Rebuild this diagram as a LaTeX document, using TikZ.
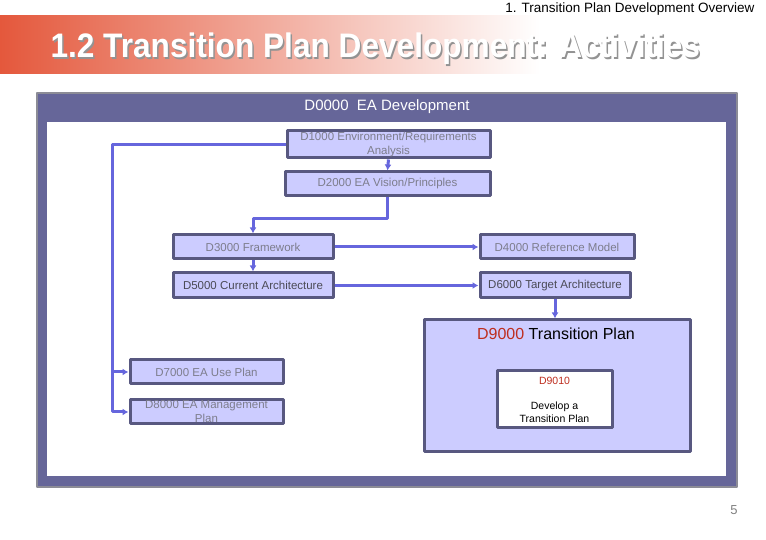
\documentclass[tikz,border=0pt]{standalone}
\usepackage{fontspec}
\setmainfont{Liberation Sans}
\usetikzlibrary{arrows.meta}
\definecolor{bandred}{RGB}{228,88,60}
\definecolor{framecol}{RGB}{102,102,153}
\definecolor{framegray}{RGB}{140,140,150}
\definecolor{boxfill}{RGB}{204,204,255}
\definecolor{boxline}{RGB}{88,88,128}
\definecolor{flowline}{RGB}{102,102,221}
\definecolor{lighttext}{RGB}{125,125,140}
\definecolor{darktext}{RGB}{75,75,85}
\definecolor{redtext}{RGB}{190,45,30}
\begin{document}
\begin{tikzpicture}[>={Latex[length=6bp,width=7bp]},line join=bevel,
  box/.style={draw=boxline,fill=boxfill,line width=3bp,inner sep=0pt,align=center,
    font=\fontsize{11.5bp}{14bp}\selectfont,text=lighttext},
  flow/.style={->,draw=flowline,line width=3bp}]
  \useasboundingbox (0bp,0bp) rectangle (766bp,540bp);
%%
  % Header
  \shade [left color=bandred,right color=white] (0bp,466bp) rectangle (540bp,524bp);
  \node [anchor=east,font=\fontsize{13.5bp}{15bp}\selectfont] (head) at (758bp,531bp) {1. Transition Plan Development Overview};
  \node [anchor=west,text=gray!85,font=\bfseries\fontsize{34bp}{38bp}\selectfont] (titleshadow) at (48.5bp,489.5bp) {\scalebox{0.93}[1]{1.2 Transition Plan Development: Activities}};
  \node [anchor=west,text=white,font=\bfseries\fontsize{34bp}{38bp}\selectfont] (title) at (47bp,491bp) {\scalebox{0.93}[1]{1.2 Transition Plan Development: Activities}};
  % Frame: D0000
  \draw [draw=framegray,fill=framecol,line width=1.5bp] (37bp,53bp) rectangle (737bp,447bp);
  \fill [white] (47bp,64bp) rectangle (726bp,418bp);
  \node [text=white,font=\fontsize{15bp}{17bp}\selectfont] (D0000) at (387bp,433bp) {D0000~~EA Development};
  % Node: D1000
  \node [box,minimum width=203bp,minimum height=27bp] (D1000) at (388.5bp,395.5bp) {D1000 Environment/Requirements\\Analysis};
  % Node: D2000
  \node [box,minimum width=205bp,minimum height=24bp] (D2000) at (387.5bp,356bp) {D2000 EA Vision/Principles};
  % Node: D3000
  \node [box,minimum width=160bp,minimum height=24bp] (D3000) at (253bp,293bp) {D3000 Framework};
  % Node: D4000
  \node [box,minimum width=154bp,minimum height=24bp] (D4000) at (557bp,293bp) {D4000 Reference Model};
  % Node: D5000
  \node [box,text=darktext,minimum width=160bp,minimum height=25bp] (D5000) at (253bp,254.5bp) {D5000 Current Architecture};
  % Node: D6000
  \node [box,text=darktext,minimum width=150bp,minimum height=25bp] (D6000) at (555bp,254.5bp) {D6000 Target Architecture};
  % Node: D7000
  \node [box,minimum width=153bp,minimum height=24bp] (D7000) at (206.5bp,168bp) {D7000 EA Use Plan};
  % Node: D8000
  \node [box,minimum width=153bp,minimum height=24bp] (D8000) at (206.5bp,128bp) {D8000 EA Management\\Plan};
  % Node: D9000
  \node [box,minimum width=266bp,minimum height=132bp] (D9000) at (557bp,154bp) {};
  \node [text=black,font=\fontsize{16bp}{18bp}\selectfont] (D9000title) at (556bp,206bp) {\textcolor{redtext}{D9000} Transition Plan};
  % Node: D9010
  \node [box,fill=white,text=black,minimum width=115bp,minimum height=57bp,
    font=\fontsize{10.5bp}{13bp}\selectfont] (D9010) at (554.5bp,140.5bp)
    {\textcolor{redtext}{D9010}\\[12bp]Develop a\\Transition Plan};
%%
  % Edge: D1000 -> D2000
  \draw [flow] (D1000.south) -- (D2000.north);
  % Edge: D2000 -> D3000
  \draw [flow] (D2000.south) -- ++(0bp,-21bp) -| (D3000.north);
  % Edge: D3000 -> D4000
  \draw [flow] (D3000.east) -- (D4000.west);
  % Edge: D3000 -> D5000
  \draw [flow] (D3000.south) -- (D5000.north);
  % Edge: D5000 -> D6000
  \draw [flow] (D5000.east) -- (D6000.west);
  % Edge: D6000 -> D9000
  \draw [flow] (D6000.south) -- (D6000.south |- D9000.north);
  % Edge: D1000 -> D7000, D8000
  \coordinate (bus) at (112bp,395.5bp);
  \draw [flow] (D1000.west) -- (bus) |- (D8000.west);
  \draw [flow] (bus |- D7000.west) -- (D7000.west);
%%
  \node [text=gray,font=\fontsize{13bp}{15bp}\selectfont] (page) at (734bp,30bp) {5};
\end{tikzpicture}
\end{document}
